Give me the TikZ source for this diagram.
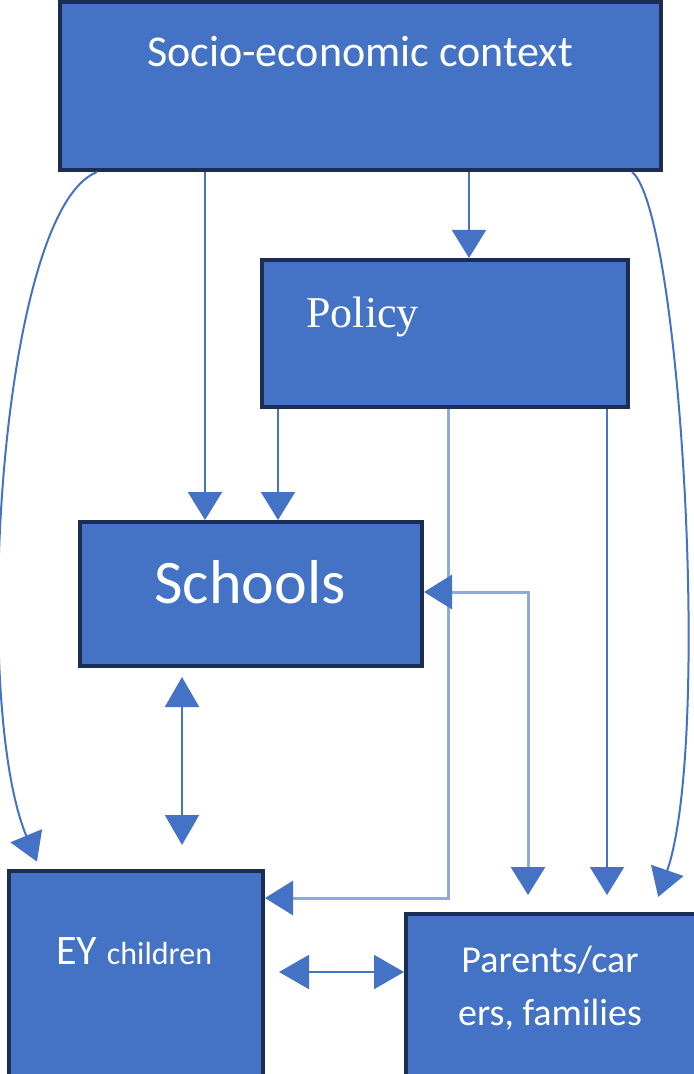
\documentclass[tikz,border=0pt]{standalone}
\usepackage{fontspec}
\setmainfont{Carlito}
\newfontfamily\policyfont{Liberation Serif}
\usepackage{tikz}
\usetikzlibrary{arrows.meta,fit}

\definecolor{boxblue}{HTML}{4472C4}
\definecolor{boxedge}{HTML}{1B2E52}
\definecolor{lineblue}{HTML}{4472C4}
\definecolor{lightblue}{HTML}{8FAADC}

\tikzset{
  box/.style={draw=boxedge, line width=2pt, fill=boxblue, inner sep=0pt},
  label/.style={text=white, inner sep=0pt},
  tip/.style={Triangle[width=17pt,length=14pt,color=lineblue]},
  arr/.style={draw=lineblue, line width=1pt, -{Triangle[width=17pt,length=14pt]}},
  dblarr/.style={draw=lineblue, line width=1pt, {Triangle[width=17pt,length=15pt]}-{Triangle[width=17pt,length=15pt]}},
  arrlight/.style={draw=lightblue, line width=1.5pt, -{Triangle[width=17pt,length=14pt,color=lineblue]}},
  dbllight/.style={draw=lightblue, line width=1.5pt, {Triangle[width=17pt,length=14pt,color=lineblue]}-{Triangle[width=17pt,length=14pt,color=lineblue]}},
}

\begin{document}
\begin{tikzpicture}[x=0.5pt,y=-0.5pt]
\useasboundingbox (0,0) rectangle (693,1074);

% boxes
\node[box, fit={(60,2) (661,170)}] (socio) {};
\node[box, fit={(262,260) (628,407)}] (policy) {};
\node[box, fit={(80,522) (422,666)}] (schools) {};
\node[box, fit={(9,871) (263,1080)}] (ey) {};
\node[box, fit={(406,914) (700,1080)}] (parents) {};

% texts
\node[label, anchor=base, font=\fontsize{22}{26}\selectfont] (sociotxt) at (360,67) {Socio-economic context};
\node[label, anchor=base west, font=\policyfont\fontsize{22}{26}\selectfont] (policytxt) at (306,328) {Policy};
\node[label, anchor=base, font=\fontsize{31}{36}\selectfont] (schoolstxt) at (250,603) {Schools};
\node[label, anchor=base west] (eytxt) at (56,964) {\fontsize{21}{25}\selectfont EY \fontsize{16}{20}\selectfont children};
\node[label, anchor=base, align=center, font=\fontsize{19}{26.5}\selectfont] (parentstxt) at (550,1025) {Parents/car\\ers, families};

% from socio-economic context
\draw[arr] (469,0 |- socio.south) -- (469,0 |- policy.north);
\draw[arr] (205,0 |- socio.south) -- (205,0 |- schools.north);
\draw[arr, shorten >=4pt] (97,0 |- socio.south) .. controls (0,210) and (-30,700) .. (40,0 |- ey.north);
\draw[arr, shorten >=8pt] (632,0 |- socio.south) .. controls (680,210) and (712,740) .. (653,0 |- parents.north);

% from policy
\draw[arr] (278,0 |- policy.south) -- (278,0 |- schools.north);
\draw[arr, shorten >=8.5pt] (607,0 |- policy.south) -- (607,0 |- parents.north);
\draw[arrlight] (448,0 |- policy.south) |- (ey.east |- 0,898);

% between schools, children and families
\draw[dbllight, shorten >=8.5pt] (schools.east |- 0,592) -| (528,0 |- parents.north);
\draw[dblarr, shorten <=4.5pt, shorten >=12pt] (182,0 |- schools.south) -- (182,0 |- ey.north);
\draw[dblarr, shorten <=7pt] (ey.east |- 0,972) -- (parents.west |- 0,972);

\end{tikzpicture}
\end{document}
